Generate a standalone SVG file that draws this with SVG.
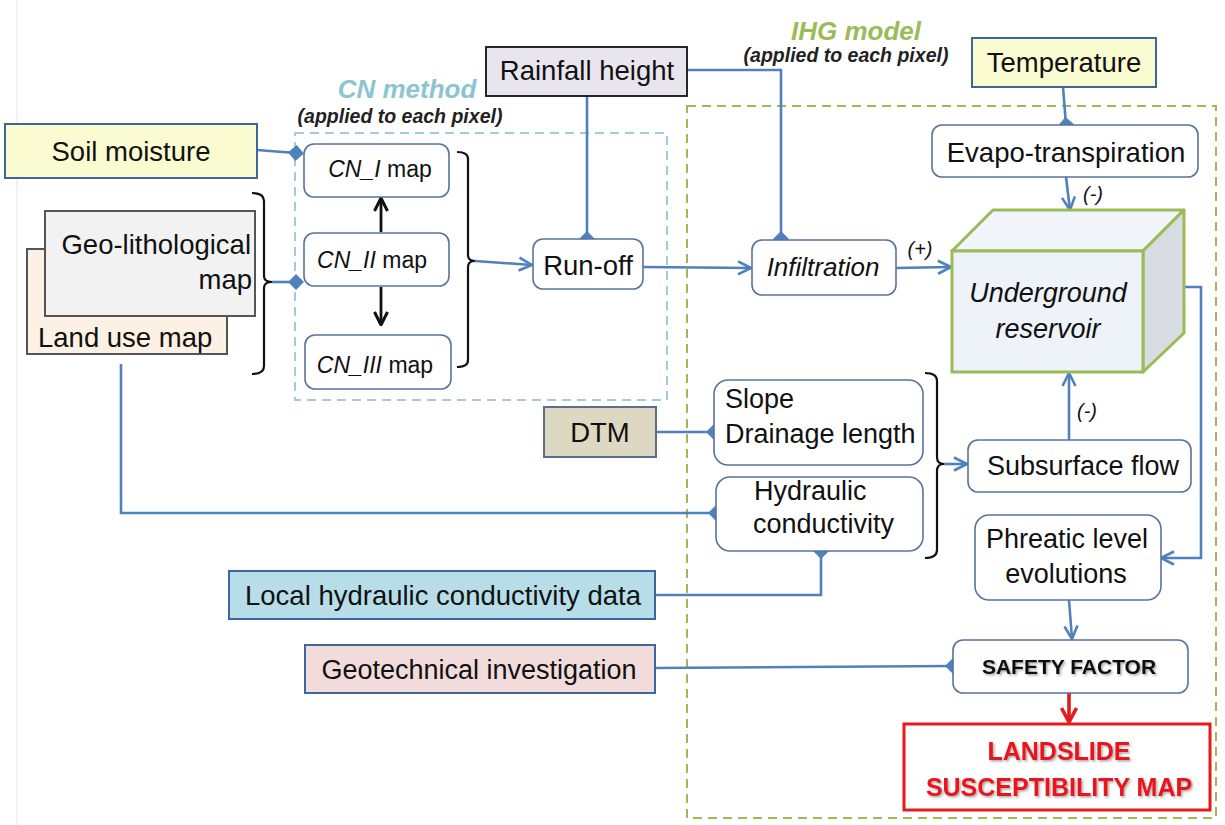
<svg xmlns="http://www.w3.org/2000/svg" width="1225" height="825" viewBox="0 0 1225 825">
<style>
  text { font-family: "Liberation Sans", Arial, sans-serif; fill: #111; }
  .t28 { font-size: 27.5px; }
  .t27 { font-size: 27px; }
  .cn { font-size: 23px; }
  .it { font-style: italic; }
  .rbox { fill: #ffffff; stroke: #5b7399; stroke-width: 1.6; }
  .inbox { stroke: #3d669c; stroke-width: 2; }
  .conn { fill: none; stroke: #4f81bd; stroke-width: 2.6; }
  .blk { fill: none; stroke: #111; stroke-width: 2.2; }
  .blka { fill: none; stroke: #111; stroke-width: 2.8; }
  .lab { font-size: 20px; font-style: italic; }
  .ttl { font-size: 26px; font-weight: bold; font-style: italic; }
  .sub { font-size: 19.5px; font-weight: bold; font-style: italic; fill: #222; }
</style>
<defs>
  <marker id="arr" viewBox="0 0 16 16" refX="15" refY="8" markerWidth="16" markerHeight="16" markerUnits="userSpaceOnUse" orient="auto">
    <path d="M2,1.5 L15,8 L2,14.5" fill="none" stroke="#4f81bd" stroke-width="2.6"/>
  </marker>
  <marker id="arrk" viewBox="0 0 16 16" refX="15" refY="8" markerWidth="16" markerHeight="16" markerUnits="userSpaceOnUse" orient="auto">
    <path d="M2,1.5 L15,8 L2,14.5" fill="none" stroke="#111" stroke-width="3"/>
  </marker>
  <marker id="arrr" viewBox="0 0 18 18" refX="16" refY="9" markerWidth="18" markerHeight="18" markerUnits="userSpaceOnUse" orient="auto">
    <path d="M2,1.5 L16,9 L2,16.5" fill="none" stroke="#e31b1b" stroke-width="3.6"/>
  </marker>
  <marker id="dia" viewBox="0 0 16 16" refX="8" refY="8" markerWidth="16" markerHeight="16" markerUnits="userSpaceOnUse" orient="auto">
    <path d="M0,8 L8,0 L16,8 L8,16Z" fill="#4f81bd"/>
  </marker>
  <filter id="sh" x="-10%" y="-30%" width="120%" height="160%">
    <feDropShadow dx="1.5" dy="1.5" stdDeviation="0.8" flood-color="#000" flood-opacity="0.35"/>
  </filter>
</defs>
<rect width="1225" height="825" fill="#ffffff"/>
<line x1="17" y1="0" x2="17" y2="825" stroke="#eeeeee" stroke-width="1.5"/>

<!-- group frames -->
<g id="cn-method">
  <rect x="295" y="133" width="372" height="267" fill="none" stroke="#9fcdd8" stroke-width="2" stroke-dasharray="9,6"/>
  <text x="407" y="98" text-anchor="middle" class="ttl" style="fill:#8cc4d2">CN method</text>
  <text x="400" y="123" text-anchor="middle" class="sub">(applied to each pixel)</text>
</g>
<g id="ihg-model">
  <rect x="687" y="106" width="529" height="712" fill="none" stroke="#9bbb59" stroke-width="2" stroke-dasharray="9,6"/>
  <text x="856" y="40" text-anchor="middle" class="ttl" style="fill:#9bbb59">IHG model</text>
  <text x="846" y="62" text-anchor="middle" class="sub">(applied to each pixel)</text>
</g>

<!-- connectors -->
<g id="connectors">
  <path class="blk" d="M252,193 Q264,193 264,201 L264,276 Q264,282 272,282 Q264,282 264,288 L264,366 Q264,374 252,374"/>
  <path class="blk" d="M457,152 Q468,152 468,159 L468,255 Q468,261 475,261 Q468,261 468,267 L468,360 Q468,367 457,367"/>
  <path class="blk" d="M925,373 Q937,373 937,381 L937,457 Q937,464 944,464 Q937,464 937,471 L937,550 Q937,558 925,558"/>
  <path class="conn" d="M257,150 L296,153" marker-end="url(#dia)"/>
  <path class="conn" d="M272,282 L296,282" marker-end="url(#dia)"/>
  <path class="conn" d="M475,261 L532,265" marker-end="url(#arr)"/>
  <path class="conn" d="M587,96 L587,239" marker-end="url(#dia)"/>
  <path class="conn" d="M687,70 L781,70 L781,239" marker-end="url(#dia)"/>
  <path class="conn" d="M643,267 L751,268" marker-end="url(#arr)"/>
  <path class="conn" d="M896,268 L951,267" marker-end="url(#arr)"/>
  <path class="conn" d="M1063,87 L1066,125" marker-end="url(#dia)"/>
  <path class="conn" d="M1066,177 L1070,210" marker-end="url(#arr)"/>
  <path class="conn" d="M1155,287 L1201,287 L1201,558 L1161,558" marker-end="url(#arr)"/>
  <path class="conn" d="M657,432 L714,432" marker-end="url(#dia)"/>
  <path class="conn" d="M121,364 L121,513 L716,513" marker-end="url(#dia)"/>
  <path class="conn" d="M655,595 L821,595 L821,551" marker-end="url(#dia)"/>
  <path class="conn" d="M944,464 L967,464" marker-end="url(#arr)"/>
  <path class="conn" d="M1069,440 L1069,373" marker-end="url(#arr)"/>
  <path class="conn" d="M1069,600 L1072,639" marker-end="url(#arr)"/>
  <path class="conn" d="M655,668 L953,666" marker-end="url(#dia)"/>
  <path d="M1069,693 L1069,722" fill="none" stroke="#e31b1b" stroke-width="3.6" marker-end="url(#arrr)"/>
  <path class="blka" d="M381,232 L381,198" marker-end="url(#arrk)"/>
  <path class="blka" d="M381,287 L381,325" marker-end="url(#arrk)"/>
  <text x="920" y="256" text-anchor="middle" class="lab">(+)</text>
  <text x="1093" y="201" text-anchor="middle" class="lab">(-)</text>
  <text x="1087" y="418" text-anchor="middle" class="lab">(-)</text>
</g>

<!-- nodes -->
<g id="soil-moisture">
  <rect x="5" y="124" width="252" height="54" fill="#fbfbd2" class="inbox"/>
  <text x="131" y="161" text-anchor="middle" class="t28">Soil moisture</text>
</g>
<g id="land-use-map">
  <rect x="27" y="249" width="200" height="105" fill="#fdf0e4" stroke="#555" stroke-width="2"/>
  <text x="38" y="347" class="t28">Land use map</text>
</g>
<g id="geo-lithological-map">
  <rect x="45" y="211" width="210" height="105" fill="#f2f2f2" stroke="#555" stroke-width="2"/>
  <text x="251" y="254" text-anchor="end" class="t28">Geo-lithological</text>
  <text x="252" y="289" text-anchor="end" class="t28">map</text>
</g>
<g id="cn-i-map">
  <rect x="304" y="144" width="145" height="53" rx="10" class="rbox"/>
  <text x="380" y="177" text-anchor="middle" class="cn"><tspan class="it">CN_I</tspan> map</text>
</g>
<g id="cn-ii-map">
  <rect x="304" y="233" width="145" height="53" rx="10" class="rbox"/>
  <text x="372" y="268" text-anchor="middle" class="cn"><tspan class="it">CN_II</tspan> map</text>
</g>
<g id="cn-iii-map">
  <rect x="305" y="335" width="146" height="54" rx="10" class="rbox"/>
  <text x="375" y="373" text-anchor="middle" class="cn"><tspan class="it">CN_III</tspan> map</text>
</g>
<g id="rainfall-height">
  <rect x="486" y="47" width="201" height="49" fill="#e9e5ef" stroke="#111" stroke-width="1.8"/>
  <text x="587" y="80" text-anchor="middle" class="t28">Rainfall height</text>
</g>
<g id="run-off">
  <rect x="533" y="239" width="110" height="50" rx="10" class="rbox"/>
  <text x="588" y="275" text-anchor="middle" class="t28">Run-off</text>
</g>
<g id="infiltration">
  <rect x="752" y="240" width="144" height="55" rx="10" class="rbox"/>
  <text x="823" y="276" text-anchor="middle" class="it" style="font-size:26px">Infiltration</text>
</g>
<g id="temperature">
  <rect x="972" y="38" width="184" height="49" fill="#fbfbd2" class="inbox"/>
  <text x="1064" y="72" text-anchor="middle" class="t28">Temperature</text>
</g>
<g id="evapo-transpiration">
  <rect x="932" y="125" width="266" height="52" rx="10" class="rbox"/>
  <text x="1066" y="162" text-anchor="middle" class="t28">Evapo-transpiration</text>
</g>
<g id="underground-reservoir">
  <polygon points="952,251 993,210 1184,210 1143,251" fill="#f1f4fa" stroke="#9bbb59" stroke-width="3" stroke-linejoin="round"/>
  <polygon points="1143,251 1184,210 1184,333 1143,372" fill="#d9dce3" stroke="#9bbb59" stroke-width="3" stroke-linejoin="round"/>
  <rect x="952" y="251" width="191" height="121" fill="#eef2f9" stroke="#9bbb59" stroke-width="3"/>
  <text x="1048" y="302" text-anchor="middle" class="it" style="font-size:27px">Underground</text>
  <text x="1048" y="338" text-anchor="middle" class="it" style="font-size:27px">reservoir</text>
</g>
<g id="dtm">
  <rect x="544" y="407" width="112" height="50" fill="#ddd8c2" stroke="#5a6f90" stroke-width="2"/>
  <text x="600" y="442" text-anchor="middle" class="t28">DTM</text>
</g>
<g id="slope-drainage-length">
  <rect x="714" y="380" width="209" height="85" rx="14" class="rbox"/>
  <text x="725" y="408" class="t27">Slope</text>
  <text x="725" y="443" class="t27">Drainage length</text>
</g>
<g id="hydraulic-conductivity">
  <rect x="716" y="477" width="207" height="74" rx="14" class="rbox"/>
  <text x="754" y="500" class="t27">Hydraulic</text>
  <text x="753" y="533" class="t27">conductivity</text>
</g>
<g id="local-hydraulic-conductivity-data">
  <rect x="229" y="571" width="426" height="48" fill="#b7dde8" class="inbox"/>
  <text x="443" y="605" text-anchor="middle" class="t28">Local hydraulic conductivity data</text>
</g>
<g id="subsurface-flow">
  <rect x="968" y="440" width="223" height="52" rx="10" class="rbox"/>
  <text x="1083" y="475" text-anchor="middle" class="t27">Subsurface flow</text>
</g>
<g id="phreatic-level-evolutions">
  <rect x="975" y="515" width="186" height="85" rx="14" class="rbox"/>
  <text x="1067" y="548" text-anchor="middle" class="t27">Phreatic level</text>
  <text x="1066" y="583" text-anchor="middle" class="t27">evolutions</text>
</g>
<g id="geotechnical-investigation">
  <rect x="305" y="645" width="350" height="48" fill="#f2dcdb" class="inbox"/>
  <text x="479" y="679" text-anchor="middle" class="t27">Geotechnical investigation</text>
</g>
<g id="safety-factor">
  <rect x="953" y="640" width="235" height="53" rx="10" class="rbox"/>
  <text x="1069" y="674" text-anchor="middle" filter="url(#sh)" style="font-size:21px;font-weight:bold">SAFETY FACTOR</text>
</g>
<g id="landslide-susceptibility-map">
  <rect x="904" y="724" width="306" height="86" fill="#ffffff" stroke="#e31b1b" stroke-width="3"/>
  <text x="1059" y="760" text-anchor="middle" filter="url(#sh)" style="font-size:25px;font-weight:bold;fill:#e8141c">LANDSLIDE</text>
  <text x="1059" y="796" text-anchor="middle" filter="url(#sh)" style="font-size:25px;font-weight:bold;fill:#e8141c">SUSCEPTIBILITY MAP</text>
</g>
</svg>
